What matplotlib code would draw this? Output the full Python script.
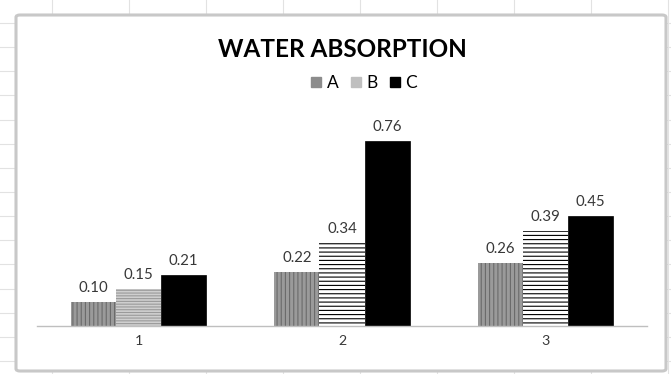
import numpy as np
import matplotlib
matplotlib.use('Agg')
import matplotlib.pyplot as plt
from matplotlib.patches import FancyBboxPatch
from matplotlib.lines import Line2D

# values
categories = ['1', '2', '3']
series = ['A', 'B', 'C']
vals_a = [0.10, 0.22, 0.26]
vals_b = [0.15, 0.34, 0.39]
vals_c = [0.21, 0.76, 0.45]

plt.rcParams['font.family'] = ['Lato', 'DejaVu Sans']
plt.rcParams['hatch.linewidth'] = 0.8

W, H = 671, 374
fig = plt.figure(figsize=(W/100, H/100), dpi=100)
fig.patch.set_facecolor('white')

def fx(px): return px / W
def fy(py): return 1 - py / H

# faint spreadsheet grid behind the chart object
for gx in np.arange(52, W, 77):
    fig.add_artist(Line2D([fx(gx)]*2, [0, 1], color='#e2e2e2', lw=0.8, zorder=0))
for gy in np.arange(23, H, 24.14):
    fig.add_artist(Line2D([0, 1], [fy(gy)]*2, color='#e2e2e2', lw=0.8, zorder=0))

# chart frame
frame = FancyBboxPatch((fx(16), fy(371)), fx(666) - fx(16), fy(15) - fy(371),
                       boxstyle='round,pad=0,rounding_size=0.006',
                       transform=fig.transFigure, facecolor='white',
                       edgecolor='#c8c8c8', lw=2.2, zorder=1)
fig.add_artist(frame)

ymax = 0.8
ax = fig.add_axes([fx(37), fy(326), fx(647) - fx(37), (195/H)])
ax.set_zorder(2)
ax.patch.set_visible(False)

x = np.arange(1, len(categories) + 1)
bw = 0.222

bars_a = ax.bar(x - bw, vals_a, bw, facecolor='#9a9a9a', edgecolor='#6a6a6a',
                hatch='||||', lw=0)
bars_b = ax.bar(x, vals_b, bw, facecolor='white', edgecolor='black',
                hatch='----', lw=0)
# first B bar renders lighter in the original
bars_b[0].set_facecolor('#cfcfcf')
bars_b[0].set_edgecolor('#9a9a9a')
bars_b[0].set_hatch('------')
bars_c = ax.bar(x + bw, vals_c, bw, facecolor='black', edgecolor='black', lw=0.5)

for bars, vals in [(bars_a, vals_a), (bars_b, vals_b), (bars_c, vals_c)]:
    for b, v in zip(bars, vals):
        ax.annotate('%.2f' % v, (b.get_x() + b.get_width()/2, v),
                    xytext=(0, 7.2), textcoords='offset points',
                    ha='center', va='baseline', fontsize=10.8, color='#383838',
                    annotation_clip=False)

ax.set_xlim(0.5, 3.5)
ax.set_ylim(0, ymax)
ax.set_xticks(x)
ax.set_xticklabels(categories, fontsize=10.2, color='#383838')
ax.tick_params(axis='x', length=0, pad=6.5)
ax.set_yticks([])
for s in ['top', 'left', 'right']:
    ax.spines[s].set_visible(False)
ax.spines['bottom'].set_color('#bfbfbf')
ax.spines['bottom'].set_linewidth(1.0)

fig.text(fx(342), fy(57), 'WATER ABSORPTION', ha='center', va='baseline',
         fontsize=17.5, fontweight='bold', color='black', zorder=3)

handles = [Line2D([], [], marker='s', ls='none', ms=7.2, color=c)
           for c in ['#8c8c8c', '#bfbfbf', 'black']]
leg = fig.legend(handles, series, loc='center', ncol=3,
                 bbox_to_anchor=(fx(364), fy(83)), bbox_transform=fig.transFigure,
                 frameon=False, fontsize=12.5, handlelength=0.6,
                 handletextpad=0.3, columnspacing=0.7, borderpad=0)
leg.set_zorder(3)

fig.savefig('out.png', dpi=100)
